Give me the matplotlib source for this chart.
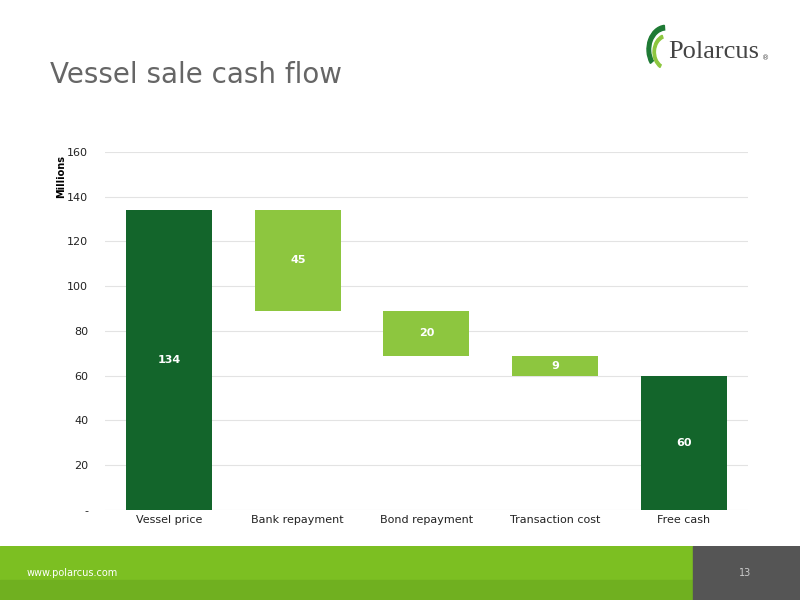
import matplotlib
matplotlib.use("Agg")
import matplotlib.pyplot as plt
from matplotlib.patches import Rectangle, Wedge

categories = ["Vessel price", "Bank repayment", "Bond repayment", "Transaction cost", "Free cash"]
values = [134, -45, -20, -9, 60]
is_total = [True, False, False, False, True]

DARK = "#13652b"
LIGHT = "#8dc63f"

fig = plt.figure(figsize=(8, 6), dpi=100)

# title
fig.text(0.062, 0.875, "Vessel sale cash flow", fontsize=20, color="#666666", va="center")

# logo
fig.text(0.835, 0.913, "Polarcus", fontsize=19, color="#444444", family="Liberation Serif",
         va="center", ha="left")
fig.text(0.953, 0.9, "®", fontsize=5, color="#444444")
logo = fig.add_axes([0.800, 0.875, 0.05, 0.085])
logo.set_xlim(-1, 1); logo.set_ylim(-1, 1); logo.axis("off")
logo.add_patch(Wedge((0.3, 0), 0.95, 95, 215, width=0.18, color="#1e7a34"))
logo.add_patch(Wedge((0.35, -0.1), 0.7, 110, 240, width=0.12, color="#8dc63f"))

# footer
foot = fig.add_axes([0, 0, 1, 0.09])
foot.set_xlim(0, 800); foot.set_ylim(0, 54); foot.axis("off")
foot.add_patch(Rectangle((0, 0), 693, 54, color="#7cbf22"))
foot.add_patch(Rectangle((0, 0), 693, 20, color="#70b020"))
foot.add_patch(Rectangle((693, 0), 107, 54, color="#555555"))
foot.text(27, 27, "www.polarcus.com", color="white", fontsize=7, va="center")
foot.text(745, 27, "13", color="#cccccc", fontsize=7, va="center", ha="center")

ax = fig.add_axes([0.131, 0.15, 0.804, 0.597])
running = 0
for i, (cat, v, tot) in enumerate(zip(categories, values, is_total)):
    if tot:
        bottom, height, color = 0, v, DARK
        running = v
    else:
        bottom, height, color = running + v, -v, LIGHT
        running += v
    ax.bar(i, height, bottom=bottom, width=0.67, color=color, zorder=2)
    ax.text(i, bottom + height / 2, f"{abs(v)}", color="white", fontsize=8,
            fontweight="bold", ha="center", va="center", zorder=3)

ax.set_ylim(0, 160)
ax.set_xlim(-0.5, 4.5)
ax.set_yticks(range(0, 161, 20))
ax.set_yticklabels(["-"] + [str(t) for t in range(20, 161, 20)])
ax.set_xticks(range(len(categories)))
ax.set_xticklabels(categories)
ax.tick_params(length=0, labelsize=8, colors="#222222")
ax.tick_params(axis="y", pad=12)
ax.grid(axis="y", color="#e3e3e3", linewidth=0.8, zorder=0)
for s in ax.spines.values():
    s.set_visible(False)
ax.set_ylabel("Millions", fontsize=7, fontweight="bold")
ax.yaxis.set_label_coords(-0.06, 0.93)

fig.savefig("out.png", dpi=100)
